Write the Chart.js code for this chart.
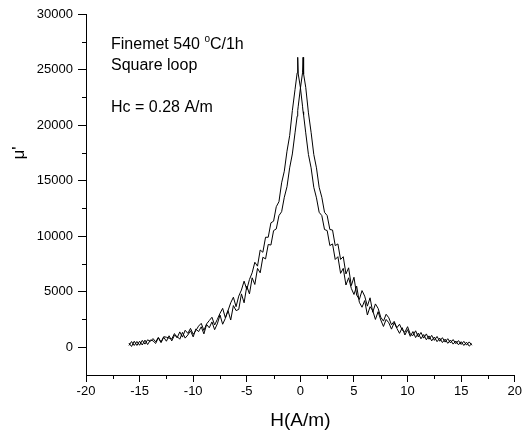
<!DOCTYPE html>
<html>
<head>
<meta charset="utf-8">
<script src="https://cdn.jsdelivr.net/npm/chart.js@4.4.1/dist/chart.umd.min.js"></script>
<style>
  html, body { margin: 0; padding: 0; background: #fff; }
  #wrap { width: 524px; height: 434px; }
</style>
</head>
<body>
<div id="wrap"><canvas id="chart" width="524" height="434"></canvas></div>
<script>
// field values (A/m), shared by both branches
const fieldH = [
  -16, -15.75, -15.5, -15.25, -15, -14.75, -14.5, -14.25, -14, -13.75, -13.5, -13.25,
  -13, -12.75, -12.5, -12.25, -12, -11.75, -11.5, -11.25, -11, -10.75, -10.5, -10.25,
  -10, -9.75, -9.5, -9.25, -9, -8.75, -8.5, -8.25, -8, -7.75, -7.5, -7.25,
  -7, -6.75, -6.5, -6.25, -6, -5.75, -5.5, -5.25, -5, -4.75, -4.5, -4.25,
  -4, -3.75, -3.5, -3.25, -3, -2.75, -2.5, -2.25, -2, -1.75, -1.5, -1.25,
  -1, -0.75, -0.5,
  -0.3, -0.25, -0.2, 0, 0.2, 0.25, 0.3,
  0.5, 0.75, 1, 1.25, 1.5, 1.75, 2, 2.25, 2.5, 2.75, 3, 3.25,
  3.5, 3.75, 4, 4.25, 4.5, 4.75, 5, 5.25, 5.5, 5.75, 6, 6.25,
  6.5, 6.75, 7, 7.25, 7.5, 7.75, 8, 8.25, 8.5, 8.75, 9, 9.25,
  9.5, 9.75, 10, 10.25, 10.5, 10.75, 11, 11.25, 11.5, 11.75, 12, 12.25,
  12.5, 12.75, 13, 13.25, 13.5, 13.75, 14, 14.25, 14.5, 14.75, 15, 15.25,
  15.5, 15.75, 16
];

// branch peaking at -Hc
const muBranch1 = [
  160, 510, 160, 520, 180, 620, 280, 670, 520, 780, 490, 880,
  470, 950, 900, 820, 740, 1230, 840, 1380, 910, 1530, 1250, 1700,
  1160, 1500, 1900, 2150, 1510, 2100, 2400, 2700, 2000, 2500, 3050, 3500,
  2650, 3300, 4000, 4500, 3650, 4600, 5150, 5950, 5200, 6100, 6700, 7650,
  7300, 8750, 8550, 9900, 9900, 11200, 11350, 12650, 13100, 14800, 15850, 17650,
  19050, 21300, 23200,
  24700, 26100, 24600, 23400, 21700, 21200, 20900,
  19300, 17350, 16150, 14400, 13450, 12150, 11850, 10600, 10500, 9150, 9300, 7900,
  8150, 6650, 7100, 5600, 6250, 5300, 4750, 5500, 4050, 3600, 4200, 2900,
  3650, 3300, 2500, 3200, 2450, 1870, 2500, 2200, 1630, 2210, 1700, 1250,
  1760, 1100, 1580, 980, 1410, 870, 1270, 760, 1140, 670, 1020, 570,
  920, 500, 820, 420, 730, 350, 650, 280, 560, 220, 500, 160,
  450, 100, 330
];

// branch peaking at +Hc
const muBranch2 = [
  380, 70, 540, 160, 540, 200, 640, 240, 650, 580, 340, 850,
  410, 900, 540, 1030, 570, 1070, 970, 720, 1340, 820, 1100, 1480,
  930, 1650, 1400, 1840, 1200, 2050, 1750, 2280, 1580, 2100, 2900, 2070,
  2600, 3300, 2450, 3750, 3300, 3400, 4800, 4000, 5500, 4800, 6250, 5650,
  7100, 6700, 8100, 7950, 9250, 9200, 10500, 10650, 11850, 12200, 13500, 14450,
  16150, 17400, 19300,
  20800, 21300, 21700, 23300, 24700, 26100, 24600,
  23400, 21100, 19350, 17350, 16150, 14400, 13500, 12150, 11850, 10600, 10550, 9150,
  9300, 7900, 8150, 6600, 7150, 5550, 6300, 4700, 4300, 5100, 4600, 3700,
  4450, 3150, 3900, 3500, 2700, 2350, 2970, 2650, 2020, 2330, 1750, 2070,
  1540, 1350, 1850, 1180, 1050, 1480, 930, 1330, 820, 1200, 720, 1070,
  620, 970, 540, 860, 460, 770, 390, 690, 320, 600, 250, 530,
  190, 480, 180
];

const xTickValues = [-20, -15, -10, -5, 0, 5, 10, 15, 20];
const yTickValues = [0, 5000, 10000, 15000, 20000, 25000, 30000];
const xTicksMinor = [-17.5, -12.5, -7.5, -2.5, 2.5, 7.5, 12.5, 17.5];
const yTicksMinor = [2500, 7500, 12500, 17500, 22500, 27500];
const noteLines = ["Square loop", "Hc = 0.28 A/m"];

const FONT = "Arial, 'Liberation Sans', sans-serif";

function toPoints(ys) {
  return fieldH.map((h, i) => ({ x: h, y: ys[i] }));
}

// minor ticks, notes and the rotated y title
const extras = {
  id: "extras",
  afterDraw(chart) {
    const ctx = chart.ctx;
    const xs = chart.scales.x;
    const ys = chart.scales.y;
    ctx.save();
    ctx.strokeStyle = "#000";
    ctx.lineWidth = 1;
    ctx.beginPath();
    for (const v of xTicksMinor) {
      const px = Math.round(xs.getPixelForValue(v)) + 0.5;
      ctx.moveTo(px, xs.top);
      ctx.lineTo(px, xs.top + 4);
    }
    for (const v of yTicksMinor) {
      const py = Math.round(ys.getPixelForValue(v)) + 0.5;
      ctx.moveTo(ys.right, py);
      ctx.lineTo(ys.right - 4, py);
    }
    ctx.stroke();

    ctx.fillStyle = "#000";
    ctx.textAlign = "left";
    ctx.textBaseline = "alphabetic";
    ctx.font = "16px " + FONT;
    const first = "Finemet 540 ";
    ctx.fillText(first, 111, 49);
    let x = 111 + ctx.measureText(first).width;
    ctx.font = "10px " + FONT;
    ctx.fillText("o", x, 42);
    x += ctx.measureText("o").width;
    ctx.font = "16px " + FONT;
    ctx.fillText("C/1h", x, 49);
    ctx.fillText(noteLines[0], 111, 70);
    ctx.fillText(noteLines[1], 111, 112);

    ctx.translate(19, 153);
    ctx.rotate(-Math.PI / 2);
    ctx.textAlign = "center";
    ctx.textBaseline = "middle";
    ctx.font = "17px " + FONT;
    ctx.fillText("\u03bc'", 0, 0);
    ctx.restore();
  },
};

const ctx = document.getElementById("chart");

new Chart(ctx, {
  type: "line",
  data: {
    datasets: [
      {
        data: toPoints(muBranch1),
        borderColor: "#000",
        borderWidth: 1,
        pointRadius: 0,
        tension: 0,
        fill: false,
      },
      {
        data: toPoints(muBranch2),
        borderColor: "#000",
        borderWidth: 1,
        pointRadius: 0,
        tension: 0,
        fill: false,
      },
    ],
  },
  options: {
    responsive: false,
    animation: false,
    devicePixelRatio: 1,
    layout: { padding: { top: 14, right: 8, left: 0, bottom: 0 } },
    plugins: {
      legend: { display: false },
      tooltip: { enabled: false },
    },
    scales: {
      x: {
        type: "linear",
        min: -20,
        max: 20,
        afterBuildTicks(scale) {
          scale.ticks = xTickValues.map((v) => ({ value: v }));
        },
        ticks: {
          color: "#000",
          font: { family: FONT, size: 13 },
          padding: 2,
          maxRotation: 0,
          autoSkip: false,
          callback: (v) => String(v),
        },
        grid: { drawOnChartArea: false, color: "#000", tickLength: 7 },
        border: { color: "#000", width: 1 },
        title: {
          display: true,
          text: "H(A/m)",
          color: "#000",
          font: { family: FONT, size: 19 },
          padding: { top: 0, bottom: 2 },
        },
        afterFit(scale) {
          scale.height = 59;
        },
      },
      y: {
        min: -2500,
        max: 30000,
        afterBuildTicks(scale) {
          scale.ticks = yTickValues.map((v) => ({ value: v }));
        },
        ticks: {
          color: "#000",
          font: { family: FONT, size: 13 },
          padding: 5,
          autoSkip: false,
          callback: (v) => String(v),
        },
        grid: { drawOnChartArea: false, color: "#000", tickLength: 8 },
        border: { color: "#000", width: 1 },
        afterFit(scale) {
          scale.width = 86;
        },
      },
    },
  },
  plugins: [extras],
});
</script>
</body>
</html>
